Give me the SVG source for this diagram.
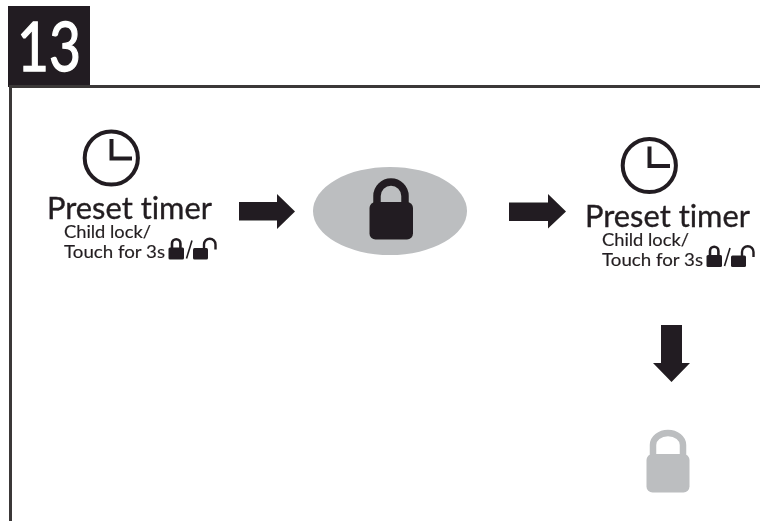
<svg xmlns="http://www.w3.org/2000/svg" width="760" height="521" viewBox="0 0 760 521">
<style>
text{font-family:Lato,"Noto Sans","Liberation Sans",sans-serif;fill:#231f20;font-variant-ligatures:none}
.title{font-size:31px;stroke:#231f20;stroke-width:.35px}
.sub{font-size:16.500px;stroke:#231f20;stroke-width:.15px}
.num{font-size:68px;fill:#fff;stroke:#fff;stroke-width:1.300px}
.clock{fill:none;stroke:#231f20;stroke-width:4}
.shape{fill:#231f20}
.hollow{fill:none;stroke:#231f20}
.grey{fill:#bcbec0}
.greys{fill:none;stroke:#bcbec0}
</style>
<defs>
<filter id="soft" x="0" y="0" width="100%" height="100%"><feGaussianBlur stdDeviation="0.45"/></filter>
<g id="mini">
<path class="hollow" stroke-width="2.600" d="M172 249v-5.500a4.200 4.200 0 0 1 8.400 0v5.500"/>
<rect class="shape" x="168.500" y="247.500" width="15.500" height="12" rx="1.500"/>
<path class="hollow" stroke-width="1.600" d="M186.500 258.500L192 240.500"/>
<rect class="shape" x="193" y="248" width="15" height="11.500" rx="1.500"/>
<path class="hollow" stroke-width="2.400" d="M204 249v-4.500a5.500 5.500 0 0 1 11.500 0v5"/>
</g>
<g id="timer">
<circle class="clock" cx="111.300" cy="158" r="26.600"/>
<path class="clock" d="M111.500 139V158.500H132"/>
<text class="title" x="47" y="219" textLength="165" lengthAdjust="spacingAndGlyphs">Preset timer</text>
<text class="sub" x="64" y="238" textLength="87" lengthAdjust="spacingAndGlyphs">Child lock/</text>
<text class="sub" x="64" y="258" textLength="101" lengthAdjust="spacingAndGlyphs">Touch for 3s</text>
<use href="#mini"/>
</g>
</defs>
<g filter="url(#soft)">
<g id="header">
<rect class="shape" x="8" y="6" width="82" height="81"/>
<text class="num" x="17" y="71" textLength="64" lengthAdjust="spacingAndGlyphs">13</text>
<path d="M10.500 521V86.500H760" fill="none" stroke="#3a3839" stroke-width="3"/>
</g>
<g id="node-timer-1"><use href="#timer"/></g>
<g id="node-lock-oval">
<ellipse class="grey" cx="390" cy="211" rx="77" ry="44"/>
<path class="hollow" stroke-width="7.500" d="M377 206V196a14 14 0 0 1 28 0V206"/>
<rect class="shape" x="369.500" y="202" width="43.500" height="37.500" rx="6"/>
</g>
<g id="node-timer-2"><use href="#timer" transform="translate(538 7.500)"/></g>
<g id="node-lock-grey">
<path class="greys" stroke-width="6.500" d="M653 456V445a15 12 0 0 1 30 0V456"/>
<rect class="grey" x="646.500" y="454" width="43" height="38.500" rx="6"/>
</g>
<g id="connectors">
<path class="shape" d="M239 202H277V194L295 211.500L277 229V220.500H239Z"/>
<path class="shape" d="M509 202.500H548V194L566 211.500L548 228.500V221H509Z"/>
<path class="shape" d="M661 325H682V363H690L671.500 382L653 363H661Z"/>
</g>
</g>
</svg>
